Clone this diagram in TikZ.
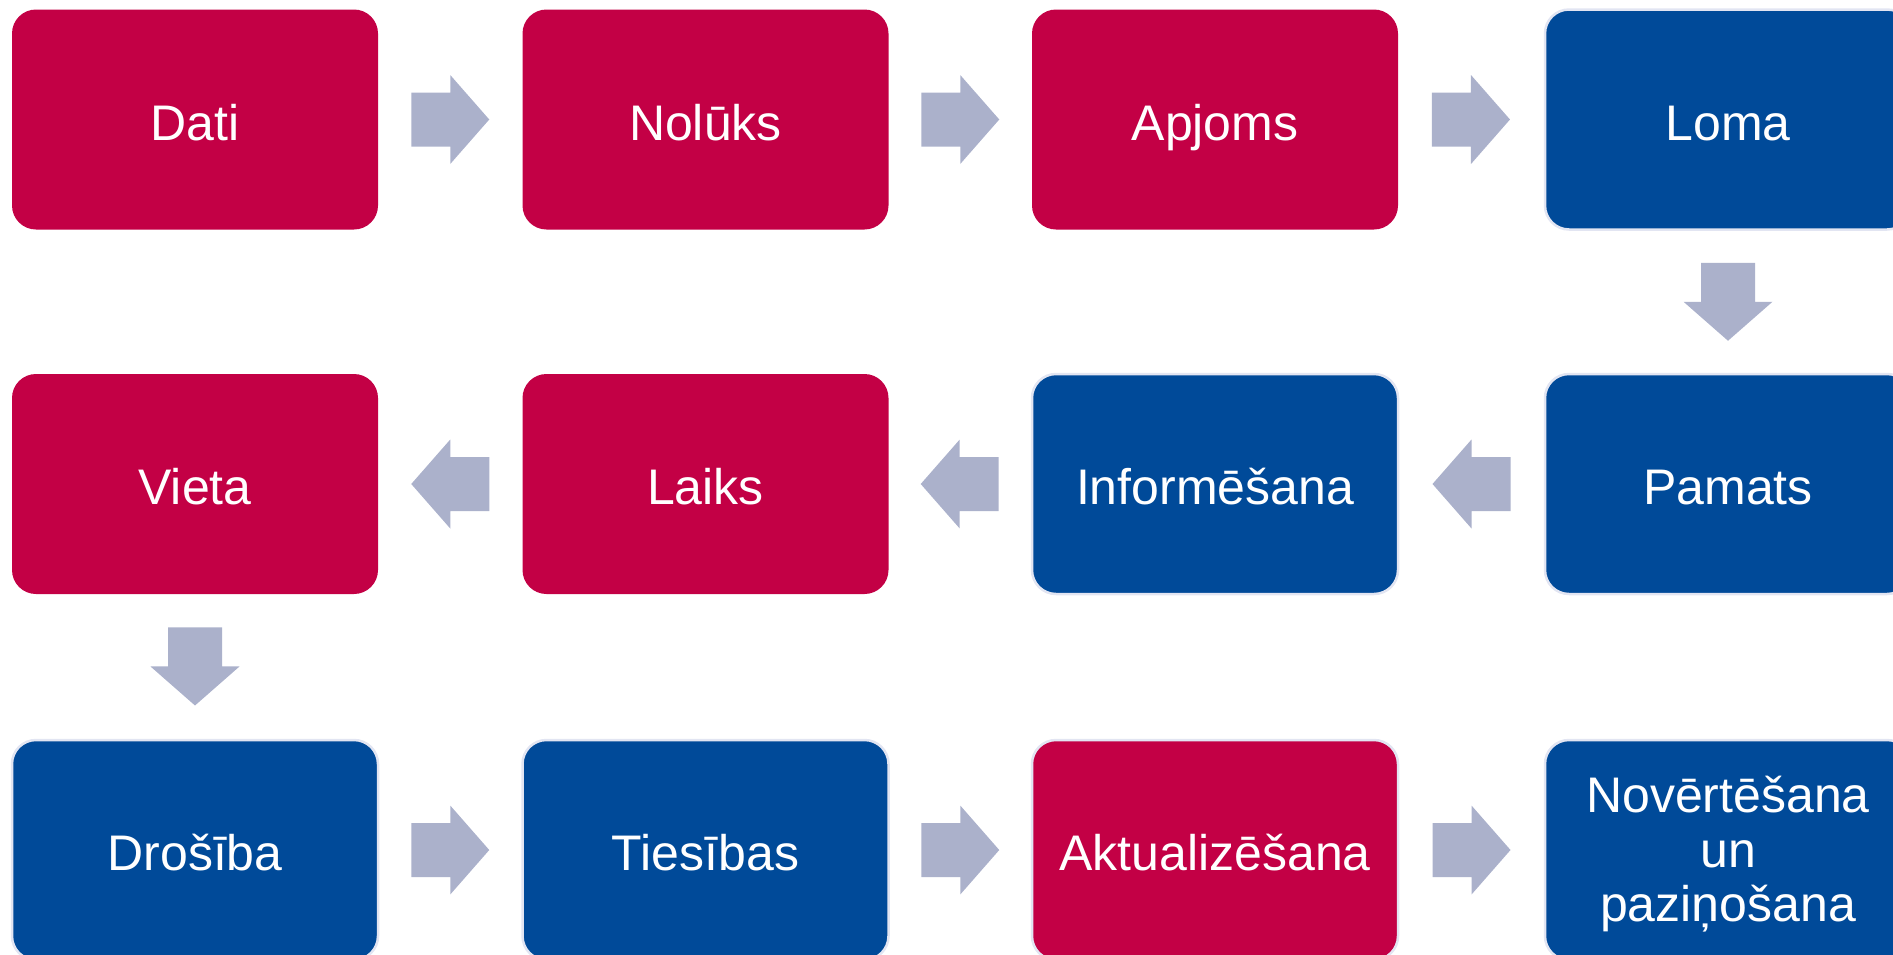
\documentclass[tikz,border=0pt]{standalone}
\usepackage{fontspec}
\setmainfont{Liberation Sans}
\usetikzlibrary{calc}
\definecolor{boxred}{RGB}{195,0,69}
\definecolor{boxblue}{RGB}{0,74,153}
\definecolor{arrowc}{RGB}{171,177,203}
\definecolor{rimc}{RGB}{226,229,242}
\tikzset{
  stepbox/.style={rectangle, rounded corners=24pt, minimum width=366pt, minimum height=220pt,
    inner sep=0pt, text=white, font=\fontsize{50}{54.5}\selectfont, align=center},
  redbox/.style={stepbox, fill=boxred},
  redrim/.style={stepbox, fill=boxred, draw=rimc, line width=2.5pt},
  bluebox/.style={stepbox, fill=boxblue, draw=rimc, line width=2.5pt},
  oneline/.style={text height=41pt, text depth=0pt},
}
\newcommand{\blockarrow}[3]{%
  \begin{scope}[shift={($(#1)!0.5!(#2)$)}, rotate=#3]
    \fill[arrowc] (-39,-27) -- (0,-27) -- (0,-44.5) -- (39,0) -- (0,44.5) -- (0,27) -- (-39,27) -- cycle;
  \end{scope}}
\begin{document}
\begin{tikzpicture}[x=1pt,y=1pt]
\useasboundingbox (0,0) rectangle (1893,-954);
\clip (0,0) rectangle (1893,-954);
% row 1
\node[redbox, oneline] (dati) at (195,-119.5) {Dati};
\node[redbox, oneline] (nol) at (705.5,-119.5) {Nolūks};
\node[redbox, oneline] (apj) at (1215,-119.5) {Apjoms};
\node[bluebox, oneline] (loma) at (1728,-119.5) {Loma};
% row 2
\node[redbox, oneline] (vieta) at (195,-484) {Vieta};
\node[redbox, oneline] (laiks) at (705.5,-484) {Laiks};
\node[bluebox, oneline] (inf) at (1215,-484) {Informēšana};
\node[bluebox, oneline] (pam) at (1728,-484) {Pamats};
% row 3
\node[bluebox, oneline] (dro) at (195,-850) {Drošība};
\node[bluebox, oneline] (ties) at (705.5,-850) {Tiesības};
\node[redrim, oneline] (akt) at (1215,-850) {Aktualizēšana};
\node[bluebox] (nov) at (1728,-850) {\rule{0pt}{45.5pt}Novērtēšana\\un\\paziņošana};
% arrows
\blockarrow{dati.east}{nol.west}{0}
\blockarrow{nol.east}{apj.west}{0}
\blockarrow{apj.east}{loma.west}{0}
\blockarrow{loma.south}{pam.north}{-90}
\blockarrow{pam.west}{inf.east}{180}
\blockarrow{inf.west}{laiks.east}{180}
\blockarrow{laiks.west}{vieta.east}{180}
\blockarrow{vieta.south}{dro.north}{-90}
\blockarrow{dro.east}{ties.west}{0}
\blockarrow{ties.east}{akt.west}{0}
\blockarrow{akt.east}{nov.west}{0}
\end{tikzpicture}
\end{document}
